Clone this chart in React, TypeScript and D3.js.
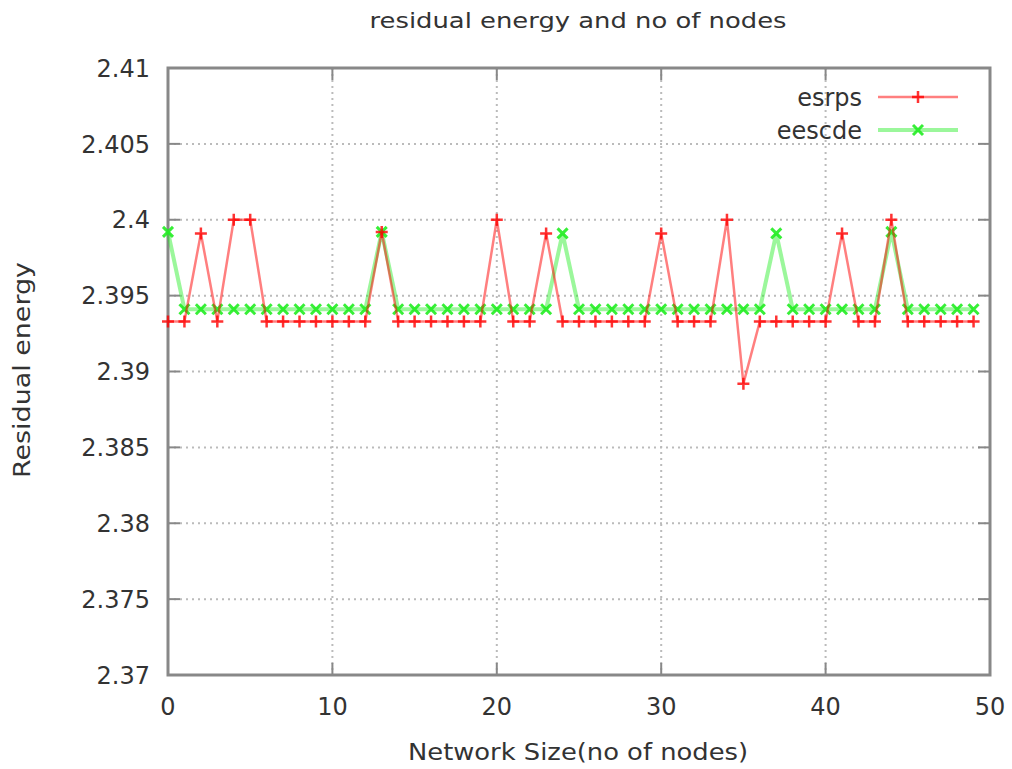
import { useEffect, useRef } from "react";
import * as d3 from "d3";

// network size (x) and residual energy per protocol
const nodes = d3.range(0, 50);
const esrps = [
  2.3933, 2.3933, 2.3991, 2.3933, 2.4, 2.4, 2.3933, 2.3933, 2.3933, 2.3933,
  2.3933, 2.3933, 2.3933, 2.3992, 2.3933, 2.3933, 2.3933, 2.3933, 2.3933, 2.3933,
  2.4, 2.3933, 2.3933, 2.3991, 2.3933, 2.3933, 2.3933, 2.3933, 2.3933, 2.3933,
  2.3991, 2.3933, 2.3933, 2.3933, 2.4, 2.3892, 2.3933, 2.3933, 2.3933, 2.3933,
  2.3933, 2.3991, 2.3933, 2.3933, 2.4, 2.3933, 2.3933, 2.3933, 2.3933, 2.3933,
];
const eescde = [
  2.3992, 2.3941, 2.3941, 2.3941, 2.3941, 2.3941, 2.3941, 2.3941, 2.3941, 2.3941,
  2.3941, 2.3941, 2.3941, 2.3992, 2.3941, 2.3941, 2.3941, 2.3941, 2.3941, 2.3941,
  2.3941, 2.3941, 2.3941, 2.3941, 2.3991, 2.3941, 2.3941, 2.3941, 2.3941, 2.3941,
  2.3941, 2.3941, 2.3941, 2.3941, 2.3941, 2.3941, 2.3941, 2.3991, 2.3941, 2.3941,
  2.3941, 2.3941, 2.3941, 2.3941, 2.3992, 2.3941, 2.3941, 2.3941, 2.3941, 2.3941,
];
const xTicks = [0, 10, 20, 30, 40, 50];
const yTicks = [2.37, 2.375, 2.38, 2.385, 2.39, 2.395, 2.4, 2.405, 2.41];
const yTickLabels = ["2.37", "2.375", "2.38", "2.385", "2.39", "2.395", "2.4", "2.405", "2.41"];

const FONT = "'DejaVu Sans', 'Liberation Sans', sans-serif";

export default function App() {
  const svgRef = useRef<SVGSVGElement>(null);

  useEffect(() => {
    const svg = d3.select(svgRef.current);
    svg.selectAll("*").remove();

    const W = 1012;
    const H = 769;
    const margin = { top: 68, right: 22, bottom: 94, left: 168 };
    const width = W - margin.left - margin.right;
    const height = H - margin.top - margin.bottom;

    const x = d3.scaleLinear().domain([0, 50]).range([0, width]);
    const y = d3.scaleLinear().domain([2.37, 2.41]).range([height, 0]);

    const g = svg
      .append("g")
      .attr("transform", `translate(${margin.left},${margin.top})`);

    // grid
    g.selectAll(".gx")
      .data(xTicks.slice(1, -1))
      .join("line")
      .attr("x1", (d) => x(d))
      .attr("x2", (d) => x(d))
      .attr("y1", 0)
      .attr("y2", height)
      .attr("stroke", "#bbb")
      .attr("stroke-width", 2)
      .attr("stroke-dasharray", "2,4");

    g.selectAll(".gy")
      .data(yTicks.slice(1, -1))
      .join("line")
      .attr("x1", 0)
      .attr("x2", width)
      .attr("y1", (d) => y(d))
      .attr("y2", (d) => y(d))
      .attr("stroke", "#bbb")
      .attr("stroke-width", 2)
      .attr("stroke-dasharray", "2,4");

    // mirrored inward ticks
    const tl = 12;
    xTicks.forEach((t) => {
      g.append("line").attr("x1", x(t)).attr("x2", x(t)).attr("y1", height).attr("y2", height - tl).attr("stroke", "#888").attr("stroke-width", 2);
      g.append("line").attr("x1", x(t)).attr("x2", x(t)).attr("y1", 0).attr("y2", tl).attr("stroke", "#888").attr("stroke-width", 2);
    });
    yTicks.forEach((t) => {
      g.append("line").attr("x1", 0).attr("x2", tl).attr("y1", y(t)).attr("y2", y(t)).attr("stroke", "#888").attr("stroke-width", 2);
      g.append("line").attr("x1", width).attr("x2", width - tl).attr("y1", y(t)).attr("y2", y(t)).attr("stroke", "#888").attr("stroke-width", 2);
    });

    // border
    g.append("rect")
      .attr("width", width)
      .attr("height", height)
      .attr("fill", "none")
      .attr("stroke", "#888")
      .attr("stroke-width", 3);

    // tick labels
    g.selectAll(".xl")
      .data(xTicks)
      .join("text")
      .attr("x", (d) => x(d))
      .attr("y", height + 40)
      .attr("text-anchor", "middle")
      .attr("font-family", FONT)
      .attr("font-size", 24)
      .attr("fill", "#333")
      .text((d) => String(d));

    g.selectAll(".yl")
      .data(yTicks)
      .join("text")
      .attr("x", -18)
      .attr("y", (d) => y(d))
      .attr("dy", "0.36em")
      .attr("text-anchor", "end")
      .attr("font-family", FONT)
      .attr("font-size", 24)
      .attr("fill", "#333")
      .text((d, i) => yTickLabels[i]);

    // series
    const series = [
      { name: "esrps", values: esrps, color: "#ff0000", lineW: 2.5, lineOp: 0.5, marker: "plus" },
      { name: "eescde", values: eescde, color: "#22ee22", lineW: 4, lineOp: 0.45, marker: "cross" },
    ];

    const line = d3
      .line<number>()
      .x((d, i) => x(nodes[i]))
      .y((d) => y(d));

    const drawMarker = (sel: any, type: string, color: string, cx: number, cy: number) => {
      if (type === "plus") {
        sel.append("path")
          .attr("d", `M${cx - 6},${cy}H${cx + 6}M${cx},${cy - 6}V${cy + 6}`)
          .attr("stroke", color)
          .attr("stroke-width", 2.5)
          .attr("opacity", 0.8);
      } else {
        sel.append("path")
          .attr("d", `M${cx - 5},${cy - 5}L${cx + 5},${cy + 5}M${cx - 5},${cy + 5}L${cx + 5},${cy - 5}`)
          .attr("stroke", color)
          .attr("stroke-width", 3)
          .attr("opacity", 0.9);
      }
    };

    // draw green first then red on top? reference shows red over green in overlaps
    [series[1], series[0]].forEach((s) => {
      g.append("path")
        .datum(s.values)
        .attr("fill", "none")
        .attr("stroke", s.color)
        .attr("stroke-opacity", s.lineOp)
        .attr("stroke-width", s.lineW)
        .attr("d", line);
      const mg = g.append("g");
      s.values.forEach((v, i) => drawMarker(mg, s.marker, s.color, x(nodes[i]), y(v)));
    });

    // legend
    series.forEach((s, i) => {
      const ly = 97 - margin.top + i * 33;
      g.append("text")
        .attr("x", 862 - margin.left)
        .attr("y", ly)
        .attr("dy", "0.36em")
        .attr("text-anchor", "end")
        .attr("font-family", FONT)
        .attr("font-size", 24)
        .attr("fill", "#333")
        .text(s.name);
      g.append("line")
        .attr("x1", 878 - margin.left)
        .attr("x2", 958 - margin.left)
        .attr("y1", ly)
        .attr("y2", ly)
        .attr("stroke", s.color)
        .attr("stroke-opacity", s.lineOp)
        .attr("stroke-width", s.lineW);
      drawMarker(g, s.marker, s.color, 918 - margin.left, ly);
    });

    // title and axis labels
    svg.append("text")
      .attr("x", 578)
      .attr("y", 28)
      .attr("text-anchor", "middle")
      .attr("font-family", FONT)
      .attr("font-size", 22)
      .attr("fill", "#333")
      .attr("textLength", 417)
      .attr("lengthAdjust", "spacingAndGlyphs")
      .text("residual energy and no of nodes");

    svg.append("text")
      .attr("x", 578)
      .attr("y", 760)
      .attr("text-anchor", "middle")
      .attr("font-family", FONT)
      .attr("font-size", 23)
      .attr("fill", "#333")
      .attr("textLength", 340)
      .attr("lengthAdjust", "spacingAndGlyphs")
      .text("Network Size(no of nodes)");

    svg.append("text")
      .attr("transform", "translate(30,370) rotate(-90)")
      .attr("text-anchor", "middle")
      .attr("font-family", FONT)
      .attr("font-size", 23)
      .attr("fill", "#333")
      .attr("textLength", 216)
      .attr("lengthAdjust", "spacingAndGlyphs")
      .text("Residual energy");
  }, []);

  return (
    <svg
      ref={svgRef}
      width={1012}
      height={769}
      style={{ position: "absolute", left: 0, top: 0, background: "#fff" }}
    />
  );
}
